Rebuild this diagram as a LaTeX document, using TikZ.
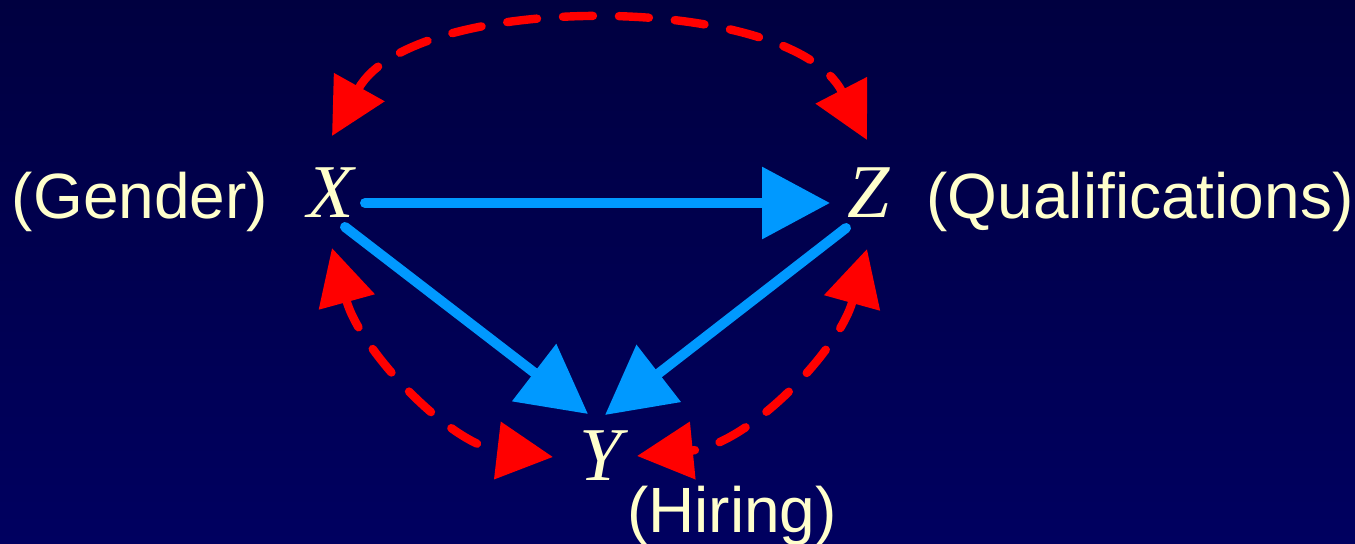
\documentclass[tikz,border=0pt]{standalone}
\usepackage{fontspec}
\setmainfont{Liberation Sans}
\newfontfamily\serifit{Liberation Serif}
\usetikzlibrary{arrows.meta}
\definecolor{bgtop}{HTML}{000040}
\definecolor{bgbot}{HTML}{000060}
\definecolor{cream}{HTML}{FFFFCC}
\definecolor{skyblue}{HTML}{0099FF}
\definecolor{redd}{HTML}{FF0000}
\begin{document}
\begin{tikzpicture}[x=0.5pt,y=-0.5pt,
  lbl/.style={text=cream, font=\fontsize{32}{38}\selectfont, inner sep=0pt, anchor=base},
  var/.style={text=cream, font=\serifit\itshape\fontsize{38}{44}\selectfont, inner sep=0pt, anchor=base},
  causal/.style={draw=skyblue, line width=5pt, line cap=round, -{Triangle[length=34pt,width=35pt]}},
  confound/.style={draw=redd, line width=4.2pt, line cap=round, dash pattern=on 15pt off 13pt,
    {Triangle[length=28pt,width=28pt]}-{Triangle[length=28pt,width=28pt]}}]
\shade[top color=bgtop, bottom color=bgbot] (0,0) rectangle (1355,544);
\useasboundingbox (0,0) rectangle (1355,544);

\node[lbl] (gender) at (140,219) {(Gender)};
\node[var] (X) at (331,218) {X};
\node[var] (Z) at (869,218) {Z};
\node[lbl] (qual) at (1140,219) {(Qualifications)};
\node[var] (Y) at (601,481) {Y};
\node[lbl] (hiring) at (732,533) {(Hiring)};

% connector end points
\coordinate (xR) at (365,203);
\coordinate (zL) at (830,203);
\coordinate (xD) at (345,227);
\coordinate (yTL) at (588,414);
\coordinate (zD) at (846,228);
\coordinate (yTR) at (605,415);
\coordinate (xT) at (332,136);
\coordinate (zT) at (867,140);
\coordinate (xB) at (332,248);
\coordinate (yL) at (553,457);
\coordinate (zB) at (867,249);
\coordinate (yR) at (637,456);

\draw[causal] (xR) -- (zL);
\draw[causal] (xD) -- (yTL);
\draw[causal] (zD) -- (yTR);

\draw[confound] (xT) .. controls (413,-9) and (790,-9) .. (zT);
\draw[confound] (xB) .. controls (360,350) and (450,445) .. (yL);
\draw[confound] (zB) .. controls (839,350) and (749,445) .. (yR);
\end{tikzpicture}
\end{document}
